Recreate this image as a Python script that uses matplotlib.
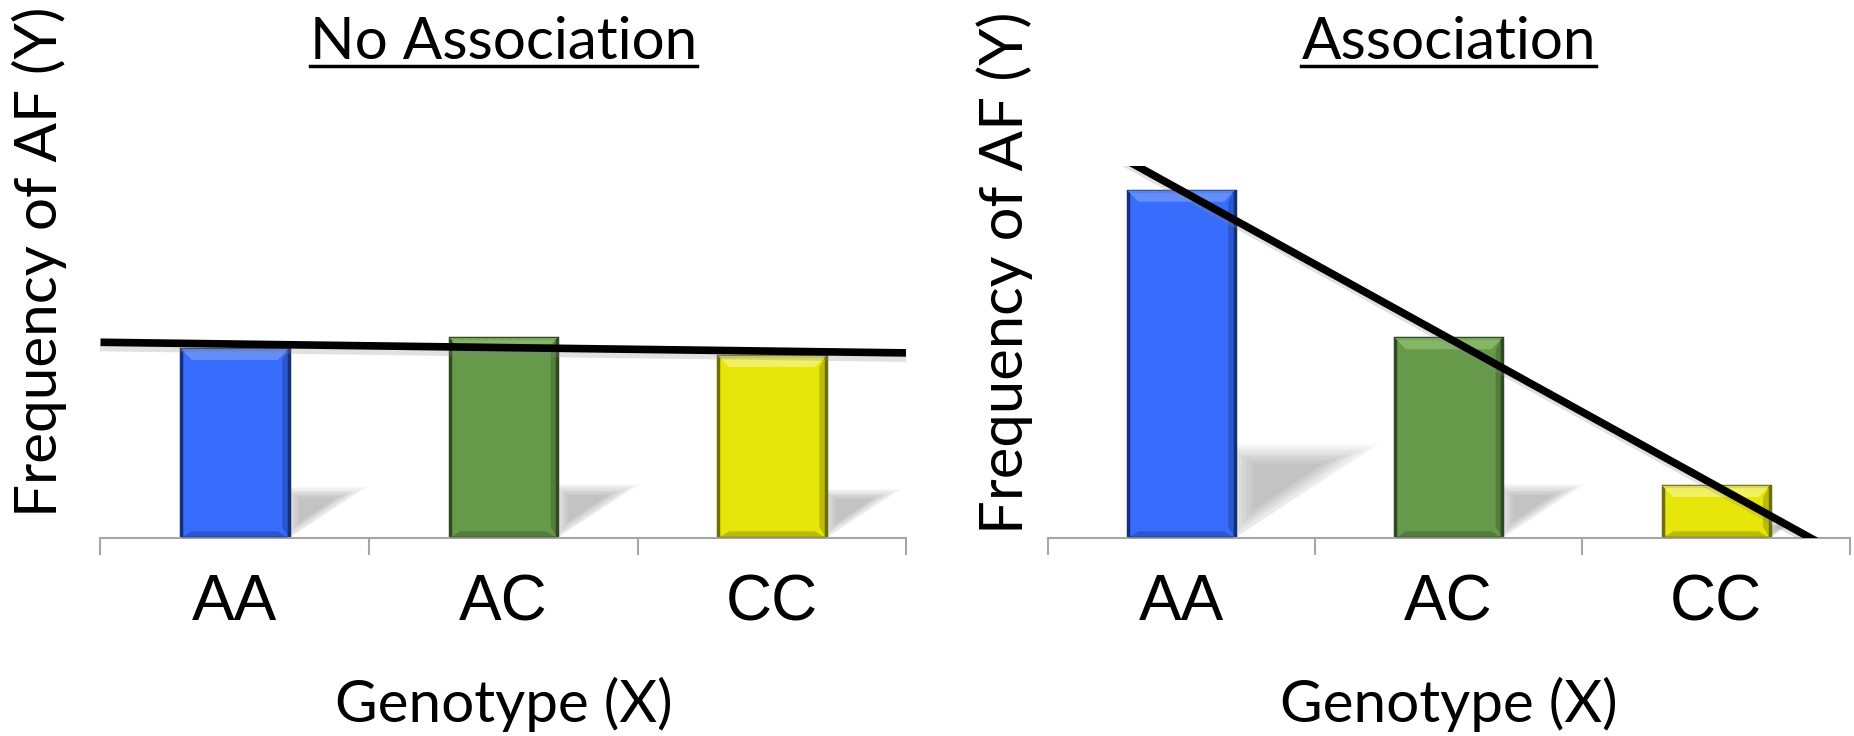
import numpy as np
import matplotlib
matplotlib.use('Agg')
import matplotlib.pyplot as plt
from matplotlib.patches import Polygon

# data (frequency, axis runs 0..1)
genotypes = ['AA', 'AC', 'CC']
freq_none = [0.508, 0.537, 0.489]
freq_assoc = [0.933, 0.537, 0.140]
titles = ['No Association', 'Association']
bar_colors = ['#386CFC', '#669A4A', '#E6E60A']
edge_colors = ['#14307A', '#2F4A22', '#6E6E05']
top_colors = ['#6E98FF', '#8CBE6E', '#F5F57A']

title_font = 'Lato'
tick_font = 'Liberation Sans'

fig = plt.figure(figsize=(18.54, 7.36), dpi=100)
ax1 = fig.add_axes([0.0542, 0.269, 0.4347, 0.506])
ax2 = fig.add_axes([0.565, 0.269, 0.4327, 0.506])

x = np.arange(1, 4)
w = 0.4


def draw_panel(ax, vals, title):
    ax.set_xlim(0.5, 3.5)
    ax.set_ylim(0, 1.0)
    # soft floor shadows behind each bar (nested shapes fake a blur)
    for xi, h in zip(x, vals):
        r = xi + w / 2
        sh, dx = 0.25 * h, 0.5 * h
        pts = np.array([(r, 0.04 * sh), (r, sh), (r + dx, sh)])
        cen = pts.mean(axis=0)
        for s in np.linspace(1.25, 0.55, 9):
            p = cen + (pts - cen) * s
            p[:, 0] = np.maximum(p[:, 0], r)
            p[:, 1] = np.maximum(p[:, 1], 0)
            ax.add_patch(Polygon(p, closed=True, facecolor='black',
                                 edgecolor='none', alpha=0.026, zorder=1))
    bars = ax.bar(x, vals, width=w, color=bar_colors, edgecolor=edge_colors,
                  linewidth=2.5, zorder=2)
    # bevel: light top strip, darker right/bottom strips
    bx, by = 0.04, 0.03
    for b, tc, ec in zip(bars, top_colors, edge_colors):
        x0, x1 = b.get_x(), b.get_x() + b.get_width()
        h = b.get_height()
        byy = min(by, h / 3)
        ax.add_patch(Polygon([(x0, h), (x1, h), (x1 - bx, h - byy), (x0 + bx, h - byy)],
                             facecolor=tc, edgecolor='none', alpha=0.8, zorder=3))
        ax.add_patch(Polygon([(x1, h), (x1, 0), (x1 - bx * 0.6, byy), (x1 - bx * 0.6, h - byy)],
                             facecolor=ec, edgecolor='none', alpha=0.35, zorder=3))
        ax.add_patch(Polygon([(x0, 0), (x1, 0), (x1 - bx, byy * 0.6), (x0 + bx, byy * 0.6)],
                             facecolor=ec, edgecolor='none', alpha=0.35, zorder=3))
    # linear trendline
    k, c = np.polyfit(x, vals, 1)
    xs = np.array([0.5, 3.5])
    ax.plot(xs + 0.01, k * xs + c - 0.015, color='#888888', lw=5, alpha=0.25, zorder=4)
    ax.plot(xs, k * xs + c, color='black', lw=5.5, solid_capstyle='butt', zorder=5)

    for side in ['top', 'right', 'left']:
        ax.spines[side].set_visible(False)
    ax.spines['bottom'].set_color('#a6a6a6')
    ax.spines['bottom'].set_linewidth(1.5)
    ax.set_yticks([])
    ax.set_xticks([0.5, 1.5, 2.5, 3.5])
    ax.set_xticklabels([])
    ax.tick_params(axis='x', length=12, width=1.5, color='#a6a6a6')
    for xi, g in zip(x, genotypes):
        ax.text(xi, -0.175, g, ha='center', va='center', fontsize=46,
                family=tick_font, transform=ax.get_xaxis_transform())
    ax.text(2, -0.446, 'Genotype (X)', ha='center', va='center', fontsize=42,
            family=title_font, transform=ax.get_xaxis_transform())
    t = ax.text(2, 1.33, title, ha='center', va='center', fontsize=42,
                family=title_font, transform=ax.get_xaxis_transform())
    return t


t1 = draw_panel(ax1, freq_none, titles[0])
t2 = draw_panel(ax2, freq_assoc, titles[1])

fig.text(0.021, 0.644, 'Frequency of AF (Y)', rotation=90, ha='center', va='center',
         fontsize=42, family=title_font)
fig.text(0.542, 0.629, 'Frequency of AF (Y)', rotation=90, ha='center', va='center',
         fontsize=43, family=title_font)

# underline the titles
fig.canvas.draw()
r = fig.canvas.get_renderer()
for t in (t1, t2):
    bb = t.get_window_extent(r).transformed(fig.transFigure.inverted())
    fig.add_artist(plt.Line2D([bb.x0, bb.x1], [bb.y0 + 0.004, bb.y0 + 0.004],
                              color='black', lw=2.5, transform=fig.transFigure))

fig.savefig('out.png', dpi=100, facecolor='white')
